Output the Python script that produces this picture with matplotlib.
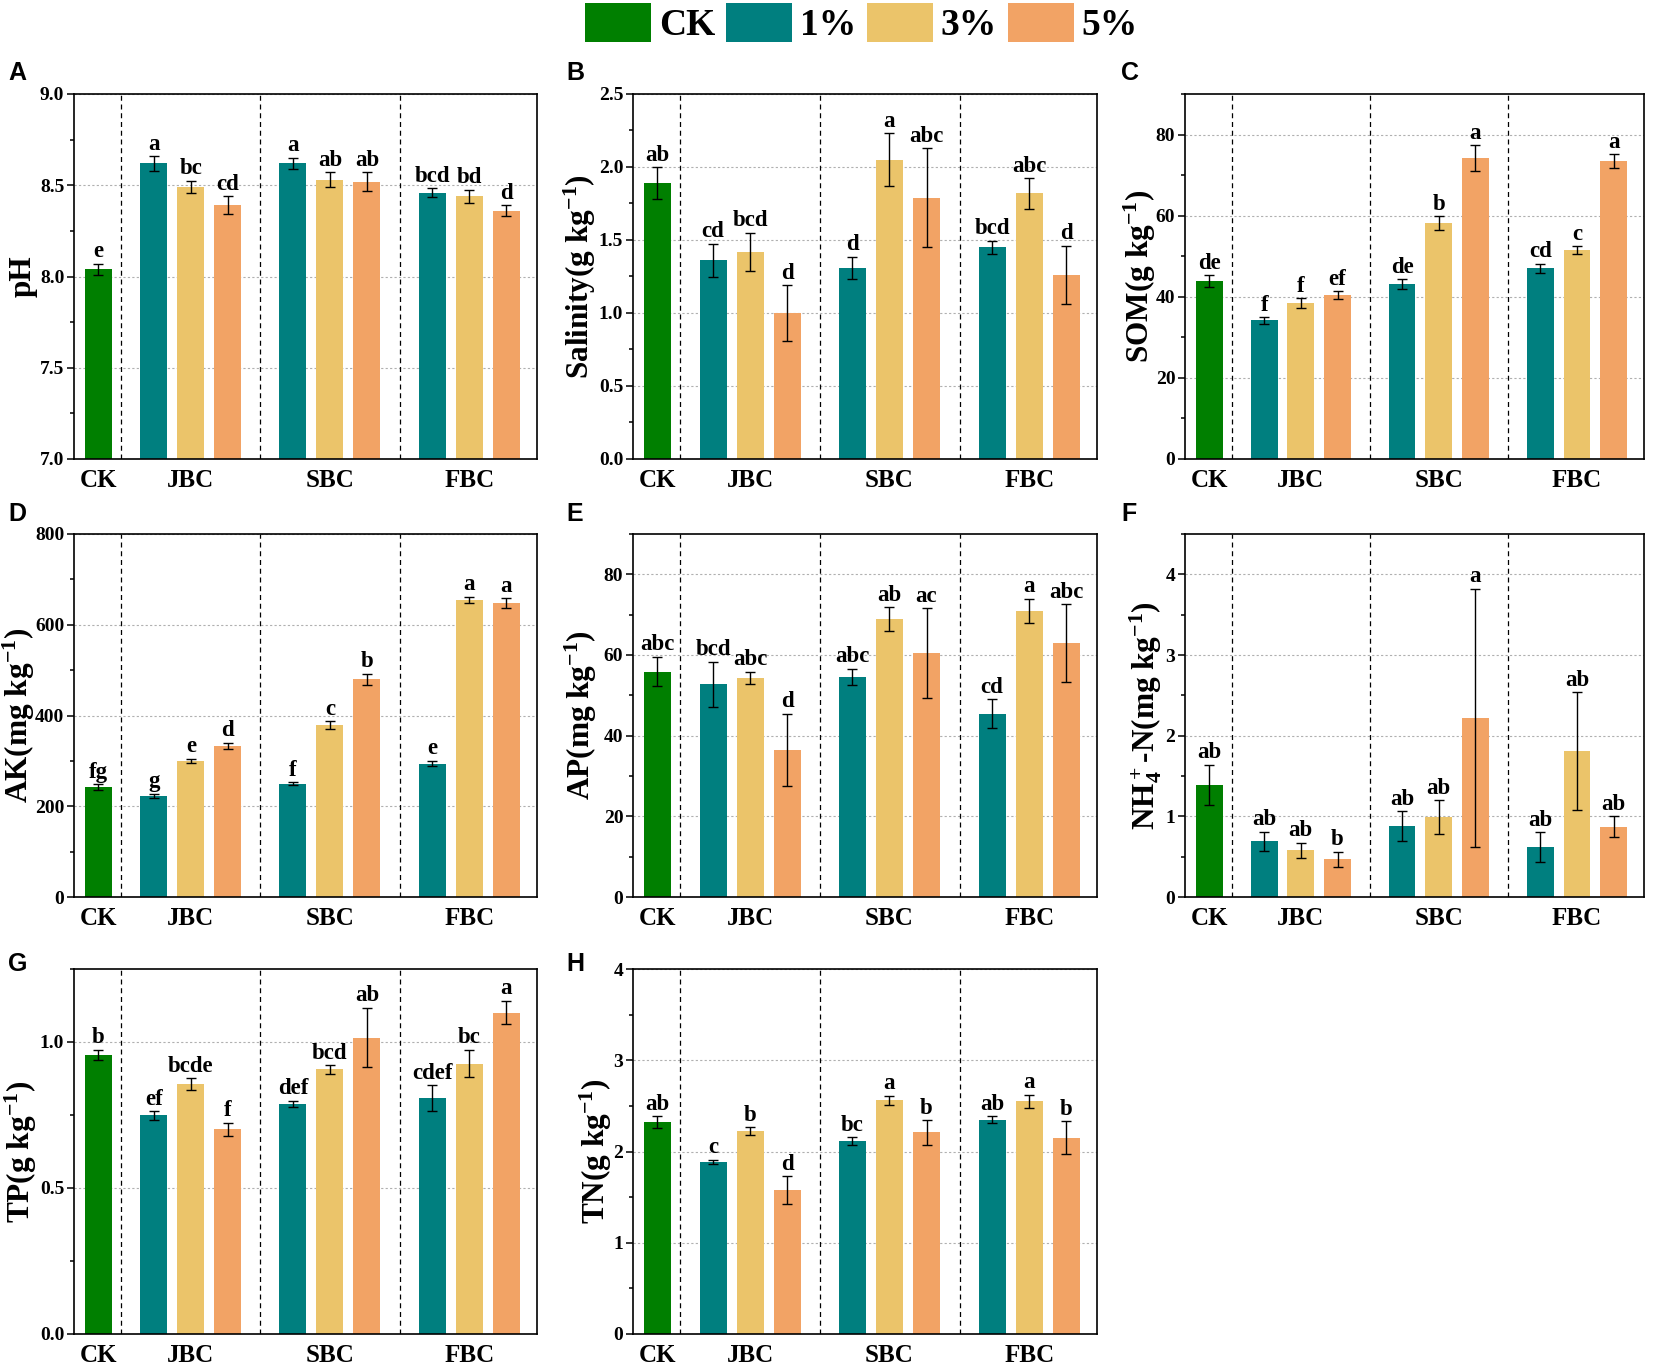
import numpy as np
import matplotlib
matplotlib.use("Agg")
import matplotlib.pyplot as plt
from matplotlib.patches import Patch
from matplotlib.ticker import MultipleLocator, FormatStrFormatter
from matplotlib.transforms import blended_transform_factory

plt.rcParams['font.family'] = ['Liberation Serif', 'DejaVu Serif']
plt.rcParams['font.weight'] = 'bold'
plt.rcParams['mathtext.fontset'] = 'custom'
plt.rcParams['mathtext.rm'] = 'Liberation Serif:bold'
plt.rcParams['mathtext.it'] = 'Liberation Serif:bold'
plt.rcParams['mathtext.bf'] = 'Liberation Serif:bold'

# treatment order: CK, JBC 1/3/5 %, SBC 1/3/5 %, FBC 1/3/5 %
groups = ['CK', 'JBC', 'SBC', 'FBC']
legend_labels = ['CK', '1%', '3%', '5%']
colors = ['#007F00', '#007F7F', '#EBC46A', '#F2A365']

ph_mean = [8.04, 8.62, 8.49, 8.39, 8.62, 8.53, 8.52, 8.46, 8.44, 8.36]
ph_err = [0.03, 0.04, 0.035, 0.05, 0.03, 0.04, 0.05, 0.025, 0.035, 0.03]
ph_sig = ['e', 'a', 'bc', 'cd', 'a', 'ab', 'ab', 'bcd', 'bd', 'd']

sal_mean = [1.89, 1.36, 1.42, 1.00, 1.31, 2.05, 1.79, 1.45, 1.82, 1.26]
sal_err = [0.11, 0.115, 0.13, 0.19, 0.075, 0.18, 0.34, 0.045, 0.105, 0.20]
sal_sig = ['ab', 'cd', 'bcd', 'd', 'd', 'a', 'abc', 'bcd', 'abc', 'd']

som_mean = [43.9, 34.2, 38.4, 40.4, 43.1, 58.2, 74.2, 47.0, 51.5, 73.4]
som_err = [1.4, 0.8, 1.2, 1.0, 1.3, 1.7, 3.2, 1.2, 0.9, 1.7]
som_sig = ['de', 'f', 'f', 'ef', 'de', 'b', 'a', 'cd', 'c', 'a']

ak_mean = [242, 223, 300, 333, 250, 379, 480, 294, 655, 647]
ak_err = [6, 4.5, 5, 7, 3, 9, 12, 6, 7, 11]
ak_sig = ['fg', 'g', 'e', 'd', 'f', 'c', 'b', 'e', 'a', 'a']

ap_mean = [55.9, 52.7, 54.3, 36.5, 54.6, 68.9, 60.5, 45.4, 71.0, 62.9]
ap_err = [3.7, 5.6, 1.6, 8.9, 2.0, 3.0, 11.1, 3.6, 3.0, 9.7]
ap_sig = ['abc', 'bcd', 'abc', 'd', 'abc', 'ab', 'ac', 'cd', 'a', 'abc']

nh4_mean = [1.39, 0.69, 0.58, 0.47, 0.88, 0.99, 2.22, 0.62, 1.81, 0.87]
nh4_err = [0.25, 0.12, 0.095, 0.094, 0.18, 0.21, 1.60, 0.185, 0.73, 0.13]
nh4_sig = ['ab', 'ab', 'ab', 'b', 'ab', 'ab', 'a', 'ab', 'ab', 'ab']

tp_mean = [0.955, 0.749, 0.857, 0.701, 0.788, 0.906, 1.015, 0.808, 0.926, 1.101]
tp_err = [0.018, 0.015, 0.02, 0.022, 0.011, 0.014, 0.102, 0.044, 0.047, 0.041]
tp_sig = ['b', 'ef', 'bcde', 'f', 'def', 'bcd', 'ab', 'cdef', 'bc', 'a']

tn_mean = [2.32, 1.89, 2.22, 1.58, 2.11, 2.56, 2.21, 2.35, 2.55, 2.15]
tn_err = [0.065, 0.022, 0.044, 0.15, 0.044, 0.051, 0.135, 0.036, 0.073, 0.18]
tn_sig = ['ab', 'c', 'b', 'd', 'bc', 'a', 'b', 'ab', 'a', 'b']

panels = [
    ('A', 'pH', ph_mean, ph_err, ph_sig, (7, 9), 0.5, '%.1f'),
    ('B', 'Salinity(g kg$^{-1}$)', sal_mean, sal_err, sal_sig, (0, 2.5), 0.5, '%.1f'),
    ('C', 'SOM(g kg$^{-1}$)', som_mean, som_err, som_sig, (0, 90), 20, '%d'),
    ('D', 'AK(mg kg$^{-1}$)', ak_mean, ak_err, ak_sig, (0, 800), 200, '%d'),
    ('E', 'AP(mg kg$^{-1}$)', ap_mean, ap_err, ap_sig, (0, 90), 20, '%d'),
    ('F', 'NH$_4^+$-N(mg kg$^{-1}$)', nh4_mean, nh4_err, nh4_sig, (0, 4.5), 1, '%d'),
    ('G', 'TP(g kg$^{-1}$)', tp_mean, tp_err, tp_sig, (0, 1.25), 0.5, '%.1f'),
    ('H', 'TN(g kg$^{-1}$)', tn_mean, tn_err, tn_sig, (0, 4), 1, '%d'),
]

# bar positions: CK alone, then three groups of three bars
group_start = [1.5, 5.26, 9.03]
xpos = [0.0] + [s + k for s in group_start for k in range(3)]
bar_colors = [colors[0]] + colors[1:] * 3
group_centers = [0.0] + [s + 1 for s in group_start]
dividers = [0.62, 4.38, 8.15]

W, H = 1654, 1370
fig = plt.figure(figsize=(W / 100, H / 100), dpi=100)

cols = [(74, 537), (633, 1097), (1185, 1644)]
rows = [(94, 459), (534, 897), (969, 1334)]
letter_xy = [(8, 61), (566, 61), (1121, 61), (8, 502), (566, 502), (1121, 502),
             (8, 952), (566, 952)]
ylabel_x = [23, 580, 1140, 19, 581, 1146, 21, 596]

for i, (letter, ylab, mean, err, sig, ylim, step, fmt) in enumerate(panels):
    c0, c1 = cols[i % 3]
    r0, r1 = rows[i // 3]
    ax = fig.add_axes([c0 / W, 1 - r1 / H, (c1 - c0) / W, (r1 - r0) / H])
    ax.set_axisbelow(True)
    ax.bar(xpos, mean, width=0.73, color=bar_colors, zorder=2)
    ax.errorbar(xpos, mean, yerr=err, fmt='none', ecolor='black', elinewidth=1,
                capsize=3.5, capthick=1, zorder=3)
    for x, m, e, s in zip(xpos, mean, err, sig):
        ax.annotate(s, (x, m + e), xytext=(0, 1), textcoords='offset points',
                    ha='center', va='bottom', fontsize=16.5, fontweight='bold')
    for d in dividers:
        ax.axvline(d, color='black', lw=0.9, ls=(0, (4, 3)), zorder=1)
    ax.set_xlim(-0.66, 11.86)
    ax.set_ylim(*ylim)
    ax.yaxis.set_major_locator(MultipleLocator(step))
    ax.yaxis.set_minor_locator(MultipleLocator(step / 2))
    ax.yaxis.set_major_formatter(FormatStrFormatter(fmt))
    ax.yaxis.grid(True, color='#b0b0b0', lw=0.8, ls=(0, (2, 2)))
    ax.set_xticks(group_centers)
    ax.set_xticklabels(groups, fontsize=18, fontweight='bold')
    ax.tick_params(axis='x', length=0, pad=7)
    ax.tick_params(axis='y', which='major', direction='out', length=5, width=1.1,
                   labelsize=14, pad=2)
    ax.tick_params(axis='y', which='minor', direction='out', length=3, width=1.1)
    for sp in ax.spines.values():
        sp.set_linewidth(1.2)
    ax.set_ylabel(ylab, fontsize=22.5, fontweight='bold')
    ax.yaxis.label.set_va('center')
    ax.yaxis.set_label_coords(ylabel_x[i] / W, 0.5,
                              transform=blended_transform_factory(fig.transFigure, ax.transAxes))
    lx, ly = letter_xy[i]
    fig.text(lx / W, 1 - ly / H, letter, ha='left', va='top', fontsize=18,
             fontweight='bold', family=['Liberation Sans', 'DejaVu Sans'])

handles = [Patch(facecolor=c, edgecolor='none') for c in colors]
fig.legend(handles, legend_labels, loc='center', bbox_to_anchor=(0.521, 1 - 23 / H),
           ncol=4, frameon=False, prop={'weight': 'bold', 'size': 27},
           handlelength=1.76, handleheight=1.2, handletextpad=0.2, columnspacing=0.3,
           borderpad=0, borderaxespad=0)

fig.savefig('out.png', dpi=100)
